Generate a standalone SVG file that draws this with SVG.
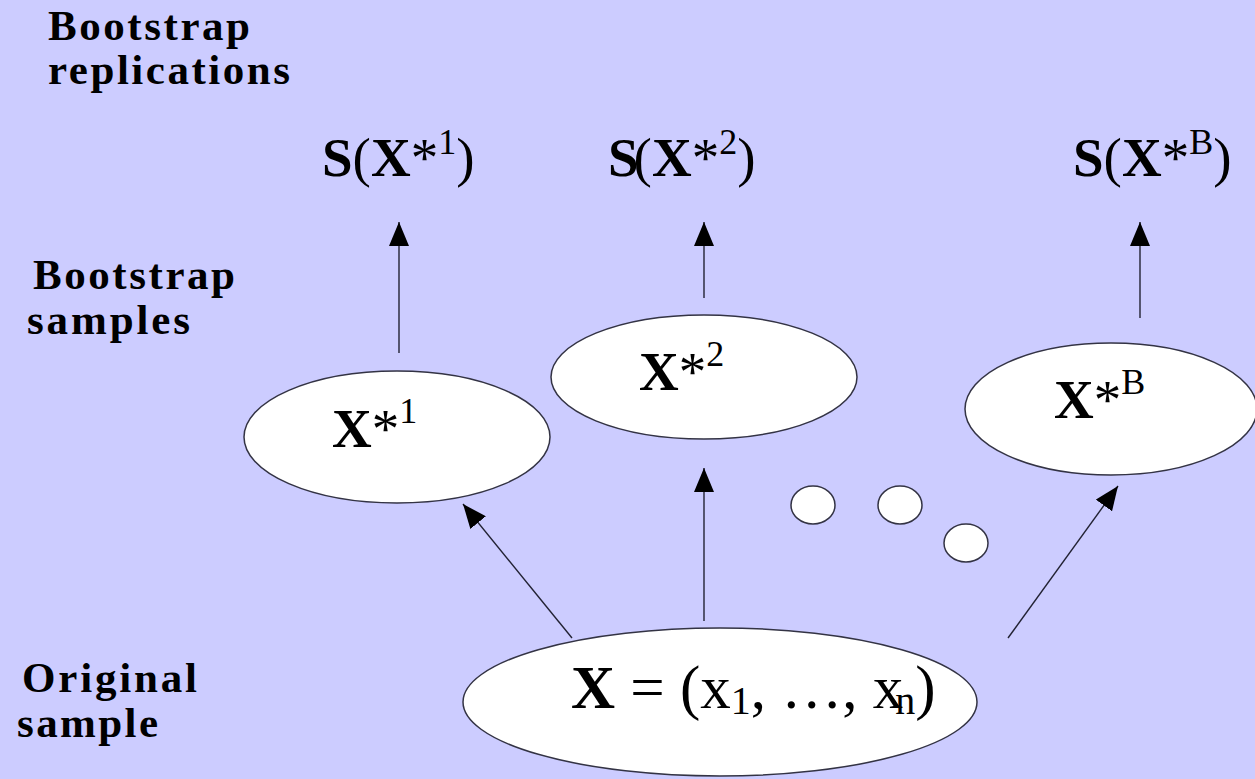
<svg xmlns="http://www.w3.org/2000/svg" width="1255" height="779" viewBox="0 0 1255 779">
<defs>
<style>
.bg{fill:#CCCCFF}
.node{fill:#FFFFFF;stroke:#333344;stroke-width:1.5}
.lbl{font-family:"Liberation Serif","Times New Roman","DejaVu Serif",serif;font-weight:bold;fill:#000;font-size:43px}
.math{font-family:"Liberation Serif","Times New Roman","DejaVu Serif",serif;font-weight:normal;fill:#000;font-size:55px}
.b{font-weight:bold}
.conn line{stroke:#222233;stroke-width:1.4;fill:none}
</style>
<marker id="ah" viewBox="0 0 24 20" refX="24" refY="10" markerWidth="24" markerHeight="20" markerUnits="userSpaceOnUse" orient="auto">
<path d="M0,0 L24,10 L0,20 Z" fill="#000"/>
</marker>
</defs>
<rect class="bg" x="0" y="0" width="1255" height="779"/>

<g id="side-labels">
<text class="lbl" x="48" y="40" textLength="202" lengthAdjust="spacing">Bootstrap</text>
<text class="lbl" x="48" y="84" textLength="242" lengthAdjust="spacing">replications</text>
<text class="lbl" x="33" y="289" textLength="202" lengthAdjust="spacing">Bootstrap</text>
<text class="lbl" x="27" y="334" textLength="163" lengthAdjust="spacing">samples</text>
<text class="lbl" x="22" y="692" textLength="175" lengthAdjust="spacing">Original</text>
<text class="lbl" x="17" y="737" textLength="141" lengthAdjust="spacing">sample</text>
</g>

<g id="rep1"><text class="math" x="322" y="176"><tspan class="b">S</tspan>(<tspan class="b">X</tspan>*<tspan font-size="36" dy="-22">1</tspan><tspan dy="22">)</tspan></text></g>
<g id="rep2"><text class="math" x="608" y="176"><tspan class="b">S</tspan><tspan dx="-5">(</tspan><tspan class="b">X</tspan>*<tspan font-size="36" dy="-22">2</tspan><tspan dy="22">)</tspan></text></g>
<g id="repB"><text class="math" x="1073" y="176"><tspan class="b">S</tspan>(<tspan class="b">X</tspan>*<tspan font-size="36" dy="-22">B</tspan><tspan dy="22">)</tspan></text></g>

<g class="conn" id="connectors">
<line x1="399" y1="353" x2="399" y2="222" marker-end="url(#ah)"/>
<line x1="704" y1="298" x2="704" y2="222" marker-end="url(#ah)"/>
<line x1="1140" y1="318" x2="1140" y2="222" marker-end="url(#ah)"/>
<line x1="572" y1="638" x2="463" y2="504" marker-end="url(#ah)"/>
<line x1="704" y1="621" x2="704" y2="468" marker-end="url(#ah)"/>
<line x1="1008" y1="638" x2="1118" y2="486" marker-end="url(#ah)"/>
</g>

<g id="sample1"><ellipse class="node" cx="397" cy="437" rx="153" ry="66"/>
<text class="math" x="332" y="447"><tspan class="b">X</tspan>*<tspan font-size="36" dy="-24">1</tspan></text></g>
<g id="sample2"><ellipse class="node" cx="704" cy="377" rx="153" ry="62"/>
<text class="math" x="639" y="390"><tspan class="b">X</tspan>*<tspan font-size="36" dy="-24">2</tspan></text></g>
<g id="sampleB"><ellipse class="node" cx="1111" cy="409" rx="146" ry="66"/>
<text class="math" x="1054" y="418"><tspan class="b">X</tspan>*<tspan font-size="36" dy="-24">B</tspan></text></g>

<g id="dots">
<ellipse class="node" cx="813" cy="505" rx="22" ry="19"/>
<ellipse class="node" cx="900" cy="505" rx="22" ry="19"/>
<ellipse class="node" cx="966" cy="543" rx="22" ry="19"/>
</g>

<g id="original"><ellipse class="node" cx="720" cy="702" rx="257" ry="74"/>
<text class="math" x="571" y="708" style="font-size:61px"><tspan class="b">X</tspan> = (x<tspan font-size="40" dy="6">1</tspan><tspan dy="-6">, …, x</tspan><tspan font-size="40" dy="6" dx="-8">n</tspan><tspan dy="-6">)</tspan></text></g>
</svg>
